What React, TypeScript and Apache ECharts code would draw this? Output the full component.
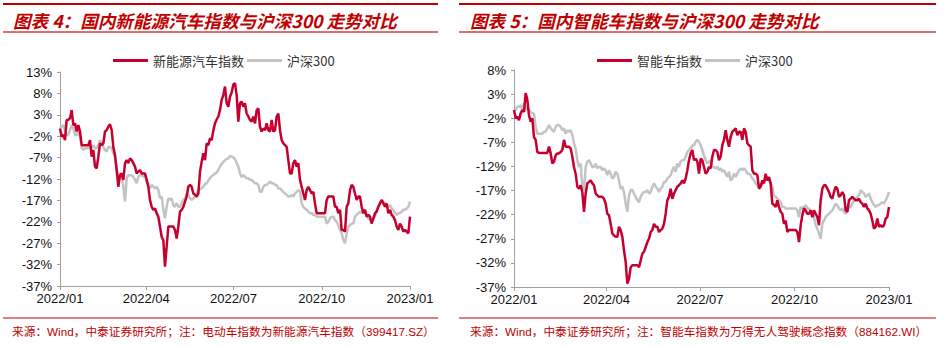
import React, { useEffect, useRef } from "react";
import * as echarts from "echarts";

// ---- axis ticks ----
const xTickDays = [0, 90, 181, 273, 365];
const xTickLabels = ["2022/01", "2022/04", "2022/07", "2022/10", "2023/01"];
const leftYTicks = [-37, -32, -27, -22, -17, -12, -7, -2, 3, 8, 13];
const rightYTicks = [-37, -32, -27, -22, -17, -12, -7, -2, 3, 8];

// sampling step (days) of the values
const LEFT_SAMPLE_DAYS = 365 / 210;
const RIGHT_SAMPLE_DAYS = 365 / 225;

// ---- titles / notes ----
const leftTitle = "图表 4：国内新能源汽车指数与沪深300 走势对比";
const rightTitle = "图表 5：国内智能车指数与沪深300 走势对比";
const leftNote = "来源：Wind，中泰证券研究所；注：电动车指数为新能源汽车指数（399417.SZ）";
const rightNote = "来源：Wind，中泰证券研究所；注：智能车指数为万得无人驾驶概念指数（884162.WI）";
const leftSeriesName = "新能源汽车指数";
const rightSeriesName = "智能车指数";
const benchName = "沪深300";

// ---- left chart values (%) ----
const leftNev = [
  -0.2, -2.1, -1.7, -2.9, 1.8, 1.8, 2.2, 4.1, 0.6, 1.0,
  -0.9, 0.6, -0.9, -4.1, -4.1, -4.1, -4.1, -4.1, -2.9, -6.8,
  -5.2, -9.1, -9.5, -6.8, -3.7, -4.1, -3.7, -0.9, -0.6, 0.2,
  0.8, -0.6, -4.5, -6.4, -9.9, -13.8, -11.1, -10.7, -12.2, -8.3,
  -7.6, -8.3, -7.2, -7.6, -8.3, -9.1, -10.7, -10.3, -9.9, -10.7,
  -10.7, -10.7, -12.2, -13.8, -16.9, -18.5, -19.2, -18.9, -20.0, -20.8,
  -23.1, -25.5, -26.3, -32.5, -27.8, -23.1, -23.1, -23.1, -23.1, -23.9,
  -25.9, -23.1, -19.6, -19.2, -18.5, -17.3, -16.1, -13.8, -13.4, -13.8,
  -15.4, -15.7, -16.1, -15.4, -10.3, -8.0, -6.0, -7.6, -3.7, -4.1,
  -2.5, -2.9, -0.7, 1.0, 1.9, 2.6, 4.1, 6.5, 7.6, 9.6,
  5.7, 4.9, 7.2, 8.2, 10.1, 10.4, 7.6, 1.4, 5.7, 6.1,
  4.9, 5.7, 3.3, 2.6, 1.8, 1.4, 2.6, 1.0, 4.1, 4.5,
  0.2, -0.9, -0.2, -0.6, 1.0, -0.6, -0.9, 1.8, -0.9, -0.6,
  2.6, 3.3, -0.6, -2.9, -3.7, -4.1, -4.5, -7.6, -10.7, -10.7,
  -8.3, -7.6, -9.1, -8.3, -12.2, -13.8, -15.4, -16.9, -14.6, -13.8,
  -14.6, -15.4, -15.0, -17.7, -20.0, -20.0, -20.0, -20.0, -20.0, -20.0,
  -16.9, -16.1, -16.1, -16.1, -16.1, -18.5, -18.5, -20.0, -19.2, -23.9,
  -23.9, -24.3, -18.5, -17.7, -14.6, -13.4, -13.8, -15.4, -16.9, -16.1,
  -16.1, -18.5, -20.0, -19.2, -20.8, -20.4, -20.8, -22.4, -21.2, -20.0,
  -19.6, -18.5, -17.7, -16.9, -17.7, -18.5, -17.7, -20.0, -19.2, -20.4,
  -20.8, -21.6, -23.1, -23.9, -22.4, -23.1, -24.3, -23.9, -24.3, -24.7,
  -20.8,
];
const leftHs300 = [
  -0.2, 0.2, 0.6, -0.6, -1.7, -1.7, -0.6, 0.6, -0.2, -1.7,
  -1.7, -0.9, -2.1, -4.8, -5.2, -4.8, -4.8, -4.8, -4.1, -4.8,
  -4.1, -4.8, -4.8, -4.1, -2.9, -3.7, -4.5, -5.2, -5.6, -4.5,
  -4.5, -4.8, -6.0, -6.8, -9.9, -10.7, -11.1, -11.5, -13.8, -17.3,
  -11.8, -11.1, -11.1, -11.1, -11.5, -12.2, -13.0, -11.5, -11.1, -11.1,
  -11.5, -11.1, -12.6, -13.0, -14.2, -13.4, -13.8, -14.2, -13.8, -14.6,
  -16.5, -16.1, -19.2, -21.2, -18.5, -16.5, -16.9, -16.5, -18.1, -18.5,
  -17.7, -18.5, -18.5, -17.7, -16.9, -16.5, -15.4, -15.7, -16.5, -16.9,
  -16.5, -16.1, -15.4, -14.6, -14.4, -14.2, -13.8, -13.2, -13.0, -12.4,
  -11.8, -11.3, -11.1, -10.7, -10.5, -9.9, -9.1, -8.5, -8.0, -7.6,
  -7.3, -7.2, -6.6, -6.8, -6.9, -7.4, -8.2, -9.1, -10.7, -11.5,
  -11.1, -11.5, -11.8, -11.8, -12.2, -12.2, -12.6, -13.0, -13.0, -13.4,
  -15.0, -15.0, -13.8, -13.4, -13.4, -13.0, -12.6, -13.0, -13.0, -13.4,
  -13.4, -14.2, -14.2, -14.6, -15.0, -15.4, -15.7, -16.1, -16.1, -15.7,
  -16.1, -15.4, -15.0, -14.6, -15.0, -17.7, -18.5, -18.9, -19.2, -19.6,
  -20.0, -20.0, -20.4, -20.4, -20.8, -20.8, -20.8, -20.8, -20.8, -20.8,
  -22.4, -22.0, -21.2, -20.8, -20.8, -21.6, -22.0, -22.8, -23.9, -24.7,
  -26.3, -27.0, -24.7, -23.1, -22.8, -22.4, -22.4, -20.8, -20.4, -20.0,
  -19.6, -20.0, -19.2, -20.0, -20.4, -21.2, -21.6, -22.0, -21.2, -20.8,
  -19.2, -18.5, -17.7, -16.9, -17.3, -17.7, -18.5, -18.5, -18.1, -18.9,
  -19.2, -20.0, -20.4, -20.0, -20.0, -19.6, -19.2, -19.2, -18.9, -18.5,
  -17.3,
];

// ---- right chart values (%) ----
const rightSmart = [
  -0.3, -2.0, -1.7, -2.4, -1.0, -0.3, -0.7, 3.2, 1.8, -1.4,
  -2.7, -2.0, -5.9, -6.5, -9.0, -9.2, -9.2, -9.2, -9.2, -9.2,
  -9.2, -7.9, -9.3, -11.4, -11.0, -9.7, -9.3, -9.3, -9.0, -8.6,
  -6.5, -7.9, -7.9, -7.9, -8.3, -10.0, -12.1, -13.5, -16.2, -16.6,
  -15.9, -17.3, -21.4, -17.6, -15.5, -15.2, -14.9, -15.5, -15.9, -17.6,
  -18.0, -18.3, -18.3, -18.3, -18.7, -19.7, -21.8, -22.1, -23.9, -25.9,
  -26.3, -26.6, -26.6, -24.5, -25.2, -26.6, -29.4, -31.8, -36.3, -35.3,
  -32.9, -32.5, -32.5, -32.5, -32.5, -32.9, -31.5, -30.1, -29.7, -28.7,
  -27.7, -27.0, -25.6, -25.2, -23.9, -24.5, -24.5, -25.6, -25.2, -24.9,
  -23.9, -21.8, -19.0, -18.3, -16.6, -18.7, -17.6, -16.9, -16.2, -15.9,
  -15.5, -14.9, -15.5, -14.5, -12.8, -10.7, -9.3, -8.6, -10.7, -10.4,
  -11.0, -13.5, -10.4, -10.7, -12.1, -13.5, -13.1, -12.1, -12.4, -10.0,
  -8.6, -8.6, -9.0, -10.7, -10.0, -7.6, -6.5, -4.5, -6.5, -7.9,
  -5.9, -4.8, -4.5, -4.1, -5.5, -4.8, -4.8, -6.5, -4.1, -4.8,
  -7.2, -7.6, -7.9, -12.8, -13.5, -13.5, -13.8, -16.6, -16.2, -14.9,
  -15.5, -13.5, -14.9, -14.2, -15.5, -19.7, -20.0, -20.4, -19.0, -20.4,
  -21.4, -21.8, -23.9, -23.2, -25.6, -25.2, -25.2, -25.2, -25.2, -25.2,
  -25.6, -27.7, -24.2, -22.1, -20.7, -21.1, -21.8, -21.8, -21.1, -22.5,
  -21.1, -21.8, -22.5, -24.2, -19.0, -16.6, -15.9, -15.9, -16.6, -17.3,
  -18.3, -18.7, -17.3, -16.2, -16.6, -18.3, -18.0, -17.3, -18.0, -21.1,
  -21.4, -19.0, -18.7, -18.3, -18.7, -19.0, -19.0, -18.7, -19.4, -19.7,
  -20.4, -19.7, -20.7, -21.1, -21.8, -23.2, -24.9, -24.5, -22.8, -24.5,
  -24.2, -24.5, -24.2, -22.8, -22.5, -20.4,
];
const rightHs300 = [
  -0.3, -0.3, 0.4, 0.4, 0.7, -0.3, 1.1, -0.3, 0.4, -0.3,
  -0.7, -1.0, -1.0, -3.8, -5.2, -5.2, -5.2, -5.2, -4.8, -4.8,
  -4.1, -3.4, -4.1, -4.5, -4.8, -3.8, -3.4, -3.4, -3.8, -4.5,
  -4.1, -5.2, -4.5, -4.8, -4.5, -5.5, -7.2, -8.3, -10.7, -12.1,
  -11.4, -16.2, -16.9, -12.1, -11.0, -10.7, -11.4, -12.1, -12.1, -11.4,
  -12.4, -12.1, -12.1, -12.8, -12.4, -12.8, -13.8, -12.8, -13.5, -14.5,
  -14.2, -13.1, -13.5, -14.9, -16.6, -16.2, -17.3, -19.7, -21.4, -18.0,
  -16.9, -16.9, -17.6, -18.3, -19.0, -19.4, -18.3, -17.6, -17.3, -17.3,
  -16.9, -17.6, -17.3, -16.2, -15.5, -16.2, -16.6, -17.3, -16.6, -16.2,
  -15.2, -15.2, -14.5, -14.2, -13.8, -12.8, -12.1, -13.1, -11.4, -12.1,
  -11.0, -10.7, -10.7, -10.0, -9.0, -8.6, -8.3, -7.6, -7.6, -6.9,
  -6.5, -6.9, -7.6, -8.6, -9.7, -10.7, -11.4, -11.0, -10.7, -12.1,
  -12.1, -12.4, -12.1, -12.8, -12.4, -13.1, -12.8, -13.5, -14.2, -13.1,
  -14.9, -14.5, -13.5, -14.2, -13.5, -12.8, -12.4, -12.8, -12.4, -12.8,
  -13.5, -13.5, -13.8, -14.5, -14.9, -15.5, -15.9, -16.2, -15.5, -15.9,
  -14.9, -14.9, -14.5, -14.9, -15.5, -16.2, -18.0, -18.3, -18.7, -19.0,
  -19.4, -20.4, -20.4, -20.7, -20.7, -20.7, -20.7, -20.7, -20.7, -20.7,
  -21.1, -22.5, -20.4, -20.7, -20.4, -20.0, -20.7, -20.7, -21.4, -21.1,
  -22.5, -24.2, -24.9, -25.9, -27.0, -23.9, -23.2, -22.5, -22.1, -21.8,
  -21.4, -21.1, -20.4, -19.7, -20.0, -20.7, -21.1, -20.7, -21.4, -21.8,
  -21.4, -20.4, -20.4, -19.7, -19.0, -18.7, -18.3, -18.0, -16.9, -17.3,
  -17.6, -18.3, -18.0, -17.6, -18.7, -19.4, -20.0, -20.4, -20.0, -20.0,
  -19.7, -19.4, -19.7, -19.0, -18.3, -17.3,
];

const RED = "#c5002f";
const GREY = "#c3c3c3";
const DARK_RED = "#c00000";
const AXIS = "#a0a0a0";
const LABEL_FONT = "'Liberation Sans', Arial, sans-serif";
const CJK_FONT = "'Noto Sans CJK SC', sans-serif";

function toPairs(values: number[], step: number) {
  return values.map((v, i) => [i * step, v]);
}

function xAxis(gridIndex: number) {
  return {
    type: "value",
    gridIndex,
    min: 0,
    max: 365,
    axisLine: { show: true, onZero: false, lineStyle: { color: AXIS, width: 1 } },
    axisTick: { show: true, customValues: xTickDays, length: 4, inside: false, lineStyle: { color: AXIS } },
    axisLabel: {
      show: true,
      customValues: xTickDays,
      showMinLabel: true,
      showMaxLabel: true,
      margin: 6,
      fontSize: 13,
      color: "#111",
      fontFamily: LABEL_FONT,
      formatter: (v: number) => {
        const idx = xTickDays.findIndex((d) => Math.abs(d - v) < 0.5);
        return idx >= 0 ? xTickLabels[idx] : "";
      },
    },
    splitLine: { show: false },
  };
}

function yAxis(gridIndex: number, ticks: number[]) {
  return {
    type: "value",
    gridIndex,
    min: ticks[0],
    max: ticks[ticks.length - 1],
    axisLine: { show: true, lineStyle: { color: AXIS, width: 1 } },
    axisTick: { show: true, customValues: ticks, length: 3, inside: false, lineStyle: { color: AXIS } },
    axisLabel: {
      show: true,
      customValues: ticks,
      showMinLabel: true,
      showMaxLabel: true,
      margin: 8,
      fontSize: 13,
      color: "#111",
      fontFamily: LABEL_FONT,
      formatter: (v: number) => `${Math.round(v)}%`,
    },
    splitLine: { show: false },
  };
}

function line(name: string, data: number[][], idx: number, color: string, z: number) {
  return {
    type: "line",
    name,
    xAxisIndex: idx,
    yAxisIndex: idx,
    data,
    symbol: "none",
    showSymbol: false,
    lineStyle: { color, width: 2.5 },
    itemStyle: { color },
    z,
  };
}

function legend(names: string[], left: number) {
  return {
    data: names,
    left,
    top: 54,
    padding: 0,
    itemWidth: 35,
    itemHeight: 3,
    itemGap: 3,
    icon: "rect",
    selectedMode: false,
    textStyle: { fontSize: 13, fontFamily: CJK_FONT, color: "#333" },
  };
}

function hline(x1: number, x2: number, y: number, color: string, w: number) {
  return { type: "line", silent: true, shape: { x1, y1: y, x2, y2: y }, style: { stroke: color, lineWidth: w } };
}

function text(x: number, y: number, t: string, style: any) {
  return { type: "text", x, y, silent: true, style: { text: t, verticalAlign: "middle", align: "left", ...style } };
}

export default function App() {
  const ref = useRef<HTMLDivElement>(null);
  useEffect(() => {
    if (!ref.current) return;
    const chart = echarts.init(ref.current, null, { renderer: "svg" });
    const titleStyle = { fill: DARK_RED, fontSize: 17.6, fontWeight: "bold", fontStyle: "italic", fontFamily: CJK_FONT };
    const noteStyle = { fill: DARK_RED, fontSize: 11.7, fontFamily: `'Liberation Sans', 'Noto Sans CJK SC', sans-serif` };
    chart.setOption({
      animation: false,
      backgroundColor: "#ffffff",
      grid: [
        { left: 60, top: 72, width: 350, height: 214 },
        { left: 514, top: 70, width: 375, height: 217 },
      ],
      xAxis: [xAxis(0), xAxis(1)],
      yAxis: [yAxis(0, leftYTicks), yAxis(1, rightYTicks)],
      legend: [legend([leftSeriesName, benchName], 113), legend([rightSeriesName, benchName], 597)],
      series: [
        line(benchName, toPairs(leftHs300, LEFT_SAMPLE_DAYS), 0, GREY, 2),
        line(leftSeriesName, toPairs(leftNev, LEFT_SAMPLE_DAYS), 0, RED, 3),
        line(benchName, toPairs(rightHs300, RIGHT_SAMPLE_DAYS), 1, GREY, 2),
        line(rightSeriesName, toPairs(rightSmart, RIGHT_SAMPLE_DAYS), 1, RED, 3),
      ],
      graphic: [
        hline(3, 438, 4, DARK_RED, 2),
        hline(3, 438, 32, "#dc7070", 2),
        hline(459, 936, 4, DARK_RED, 2),
        hline(459, 936, 32, "#dc7070", 2),
        hline(3, 438, 318, DARK_RED, 1),
        hline(459, 936, 318, DARK_RED, 1),
        text(13, 20, leftTitle, titleStyle),
        text(470, 20, rightTitle, titleStyle),
        text(12, 331, leftNote, noteStyle),
        text(470, 331, rightNote, noteStyle),
      ],
    });
    return () => chart.dispose();
  }, []);
  return (
    <div
      ref={ref}
      style={{ position: "absolute", left: 0, top: 0, width: 949, height: 347, background: "#fff" }}
    />
  );
}
